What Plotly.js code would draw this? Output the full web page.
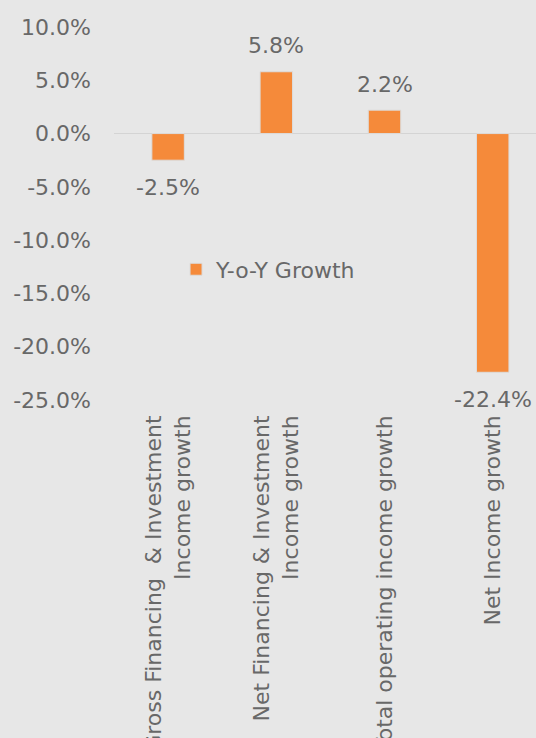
<!DOCTYPE html>
<html>
<head>
<meta charset="utf-8">
<script src="https://cdn.plot.ly/plotly-3.0.1.min.js"></script>
<style>
  html, body { margin: 0; padding: 0; background: #e7e7e7; }
  #plot1 { width: 536px; height: 738px; }
</style>
</head>
<body>
<div id="plot1"></div>
<script>
var categories = [
  'Gross Financing  & Investment<br>Income growth',
  'Net Financing & Investment<br>Income growth',
  'Total operating income growth',
  'Net Income growth'
];

var yoy_growth = [-0.025, 0.058, 0.022, -0.224];

var series_name = 'Y-o-Y Growth';

// excel style labels use a plain hyphen, not the unicode minus
var y_tickvals = [0.10, 0.05, 0, -0.05, -0.10, -0.15, -0.20, -0.25];
var y_ticktext = ['10.0%', '5.0%', '0.0%', '-5.0%', '-10.0%', '-15.0%', '-20.0%', '-25.0%'];

var label_font = { family: 'DejaVu Sans', size: 22, color: '#686868' };

var trace1 = {
  x: categories,
  y: yoy_growth,
  type: 'bar',
  name: series_name,
  width: 0.3,
  marker: { color: '#f58a3a', line: { color: '#dcdcdc', width: 1 } },
  hoverinfo: 'skip',
  showlegend: true
};

// data labels as annotations so they sit a bit further from the bars
var annotations = yoy_growth.map(function (v, i) {
  return {
    x: categories[i],
    y: v,
    text: (v * 100).toFixed(1) + '%',
    showarrow: false,
    yanchor: 'middle',
    yshift: v >= 0 ? 26 : -27,
    font: label_font
  };
});

var layout = {
  width: 536,
  height: 738,
  margin: { l: 114, r: 0, t: 27, b: 338 },
  paper_bgcolor: '#e7e7e7',
  plot_bgcolor: '#e7e7e7',
  font: label_font,
  xaxis: {
    type: 'category',
    range: [-0.5, 3.4],
    tickangle: -90,
    showgrid: false,
    showline: false,
    ticks: '',
    ticklabelstandoff: 10,
    tickfont: label_font
  },
  yaxis: {
    range: [-0.25, 0.10],
    tickvals: y_tickvals,
    ticktext: y_ticktext,
    showgrid: false,
    zeroline: true,
    zerolinecolor: '#d4d4d4',
    zerolinewidth: 1,
    ticks: '',
    ticklabelstandoff: 22,
    tickfont: label_font
  },
  legend: {
    x: 0.147,
    y: 0.35,
    xanchor: 'left',
    yanchor: 'middle',
    bgcolor: 'rgba(0,0,0,0)',
    font: label_font,
    itemwidth: 30
  },
  annotations: annotations
};

Plotly.newPlot('plot1', [trace1], layout, { displayModeBar: false });
</script>
</body>
</html>
